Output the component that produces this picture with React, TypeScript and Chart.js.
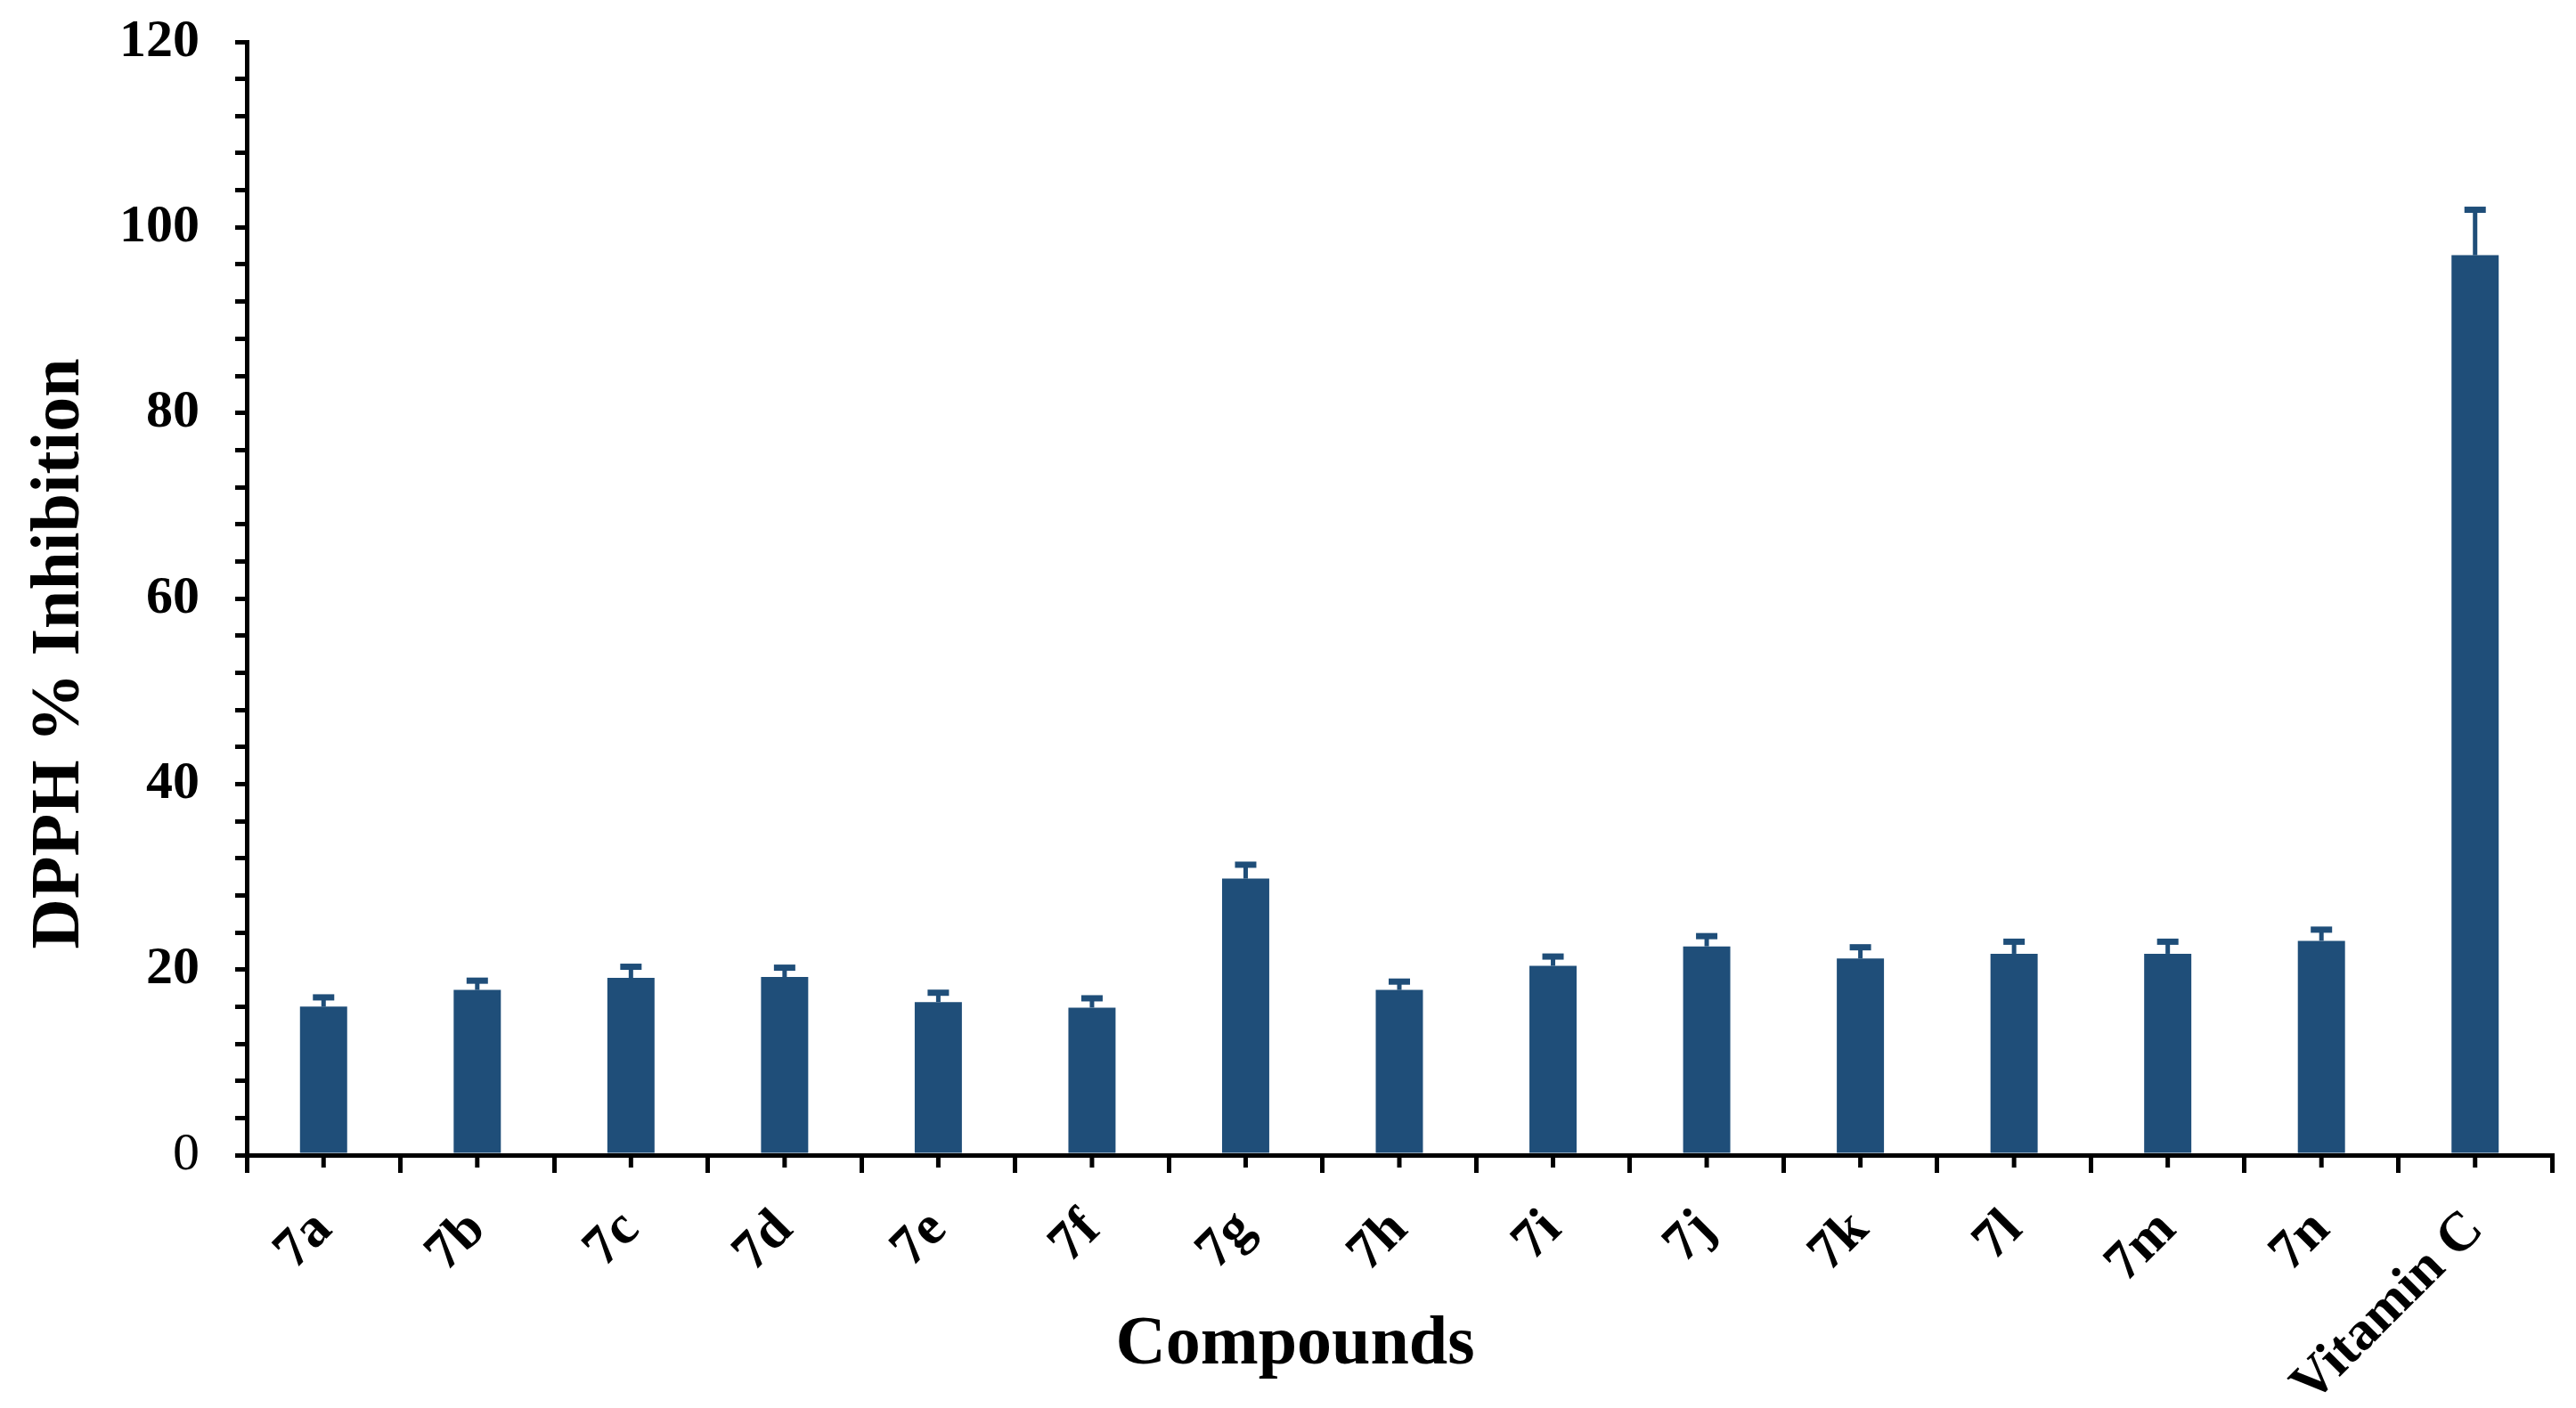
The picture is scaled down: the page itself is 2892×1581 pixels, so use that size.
import React, { useEffect, useRef } from 'react';
import { Chart, registerables } from 'chart.js';

Chart.register(...registerables);

const categories = ['7a', '7b', '7c', '7d', '7e', '7f', '7g', '7h', '7i', '7j', '7k', '7l', '7m', '7n', 'Vitamin C'];
const inhibition = [16.0, 17.8, 19.1, 19.2, 16.5, 15.9, 29.8, 17.8, 20.4, 22.5, 21.2, 21.7, 21.7, 23.1, 97.0];
const errors = [1.0, 1.0, 1.2, 1.0, 1.0, 1.0, 1.5, 0.9, 1.0, 1.1, 1.2, 1.3, 1.3, 1.2, 4.9];
const yMin = 0;
const yMax = 120;
const yMinorStep = 4;
const yMajorStep = 20;
const xTitle = 'Compounds';
const yTitle = 'DPPH % Inhibition';

const FONT = '"Liberation Serif", "Times New Roman", serif';
const BAR = '#1F4E79';

const errorBarPlugin = {
  id: 'errorBars',
  afterDatasetsDraw(chart: any) {
    const ctx = chart.ctx;
    const y = chart.scales.y;
    const meta = chart.getDatasetMeta(0);
    ctx.save();
    ctx.strokeStyle = BAR;
    meta.data.forEach((el: any, i: number) => {
      const v = inhibition[i];
      const e = errors[i];
      const yb = y.getPixelForValue(v);
      const yt = y.getPixelForValue(v + e);
      ctx.lineWidth = 5;
      ctx.beginPath();
      ctx.moveTo(el.x, yb);
      ctx.lineTo(el.x, yt);
      ctx.stroke();
      ctx.lineWidth = 7;
      ctx.beginPath();
      ctx.moveTo(el.x - 12, yt);
      ctx.lineTo(el.x + 12, yt);
      ctx.stroke();
    });
    ctx.restore();
  },
};

const extrasPlugin = {
  id: 'extras',
  afterDraw(chart: any) {
    const ctx = chart.ctx;
    const xs = chart.scales.x;
    const area = chart.chartArea;
    ctx.save();
    // short ticks at category centres
    ctx.strokeStyle = '#000';
    ctx.lineWidth = 5;
    categories.forEach((_c, i) => {
      const px = xs.getPixelForValue(i);
      ctx.beginPath();
      ctx.moveTo(px, xs.top);
      ctx.lineTo(px, xs.top + 14);
      ctx.stroke();
    });
    // axis titles
    ctx.fillStyle = '#000';
    ctx.font = `bold 78px ${FONT}`;
    ctx.textAlign = 'center';
    ctx.textBaseline = 'alphabetic';
    const cx = (area.left + area.right) / 2 - 117;
    ctx.fillText(xTitle, cx, xs.top + 234);
    const cy = (area.top + area.bottom) / 2 + 62;
    ctx.translate(88, cy);
    ctx.rotate(-Math.PI / 2);
    ctx.fillText(yTitle, 0, 0);
    ctx.restore();
  },
};

export default function App() {
  const ref = useRef<HTMLCanvasElement | null>(null);

  useEffect(() => {
    if (!ref.current) return;
    const chart = new Chart(ref.current, {
      type: 'bar',
      data: {
        labels: categories,
        datasets: [
          {
            label: 'DPPH % Inhibition',
            data: inhibition,
            backgroundColor: BAR,
            borderWidth: 0,
            barPercentage: 0.307,
            categoryPercentage: 1,
          },
        ],
      },
      options: {
        animation: false,
        responsive: false,
        devicePixelRatio: 1,
        layout: { padding: { left: 0, top: 47, right: 27, bottom: 0 } },
        plugins: {
          legend: { display: false },
          tooltip: { enabled: false },
          title: { display: false },
        },
        scales: {
          x: {
            type: 'category',
            offset: true,
            afterFit(scale: any) {
              scale.height = 284;
            },
            border: { display: true, color: '#000', width: 5 },
            grid: {
              display: true,
              offset: true,
              drawOnChartArea: false,
              drawTicks: true,
              tickLength: 20,
              tickWidth: 5,
              tickColor: '#000',
              lineWidth: 5,
              color: '#000',
            },
            ticks: {
              autoSkip: false,
              maxRotation: 45,
              minRotation: 45,
              padding: 28,
              color: '#000',
              font: { family: FONT, size: 62, weight: 'bold' },
            },
          },
          y: {
            type: 'linear',
            min: yMin,
            max: yMax,
            afterFit(scale: any) {
              scale.width = 277;
              scale.paddingTop = 0;
              scale.paddingBottom = 0;
            },
            border: { display: true, color: '#000', width: 5 },
            grid: {
              display: true,
              drawOnChartArea: false,
              drawTicks: true,
              tickLength: 13,
              tickWidth: 5,
              tickColor: '#000',
              lineWidth: 5,
              color: '#000',
            },
            ticks: {
              stepSize: yMinorStep,
              maxTicksLimit: 40,
              autoSkip: false,
              padding: 40,
              color: '#000',
              callback: (v: any) => (Number(v) % yMajorStep === 0 ? String(v) : ''),
              font: (c: any) => ({
                family: FONT,
                size: 60,
                weight: c.tick && c.tick.value === 0 ? 'normal' : 'bold',
              }),
            },
          },
        },
      },
      plugins: [errorBarPlugin, extrasPlugin],
    });
    return () => chart.destroy();
  }, []);

  return (
    <div style={{ position: 'absolute', left: 0, top: 0, width: 2892, height: 1581, background: '#fff' }}>
      <canvas ref={ref} width={2892} height={1581} />
    </div>
  );
}
